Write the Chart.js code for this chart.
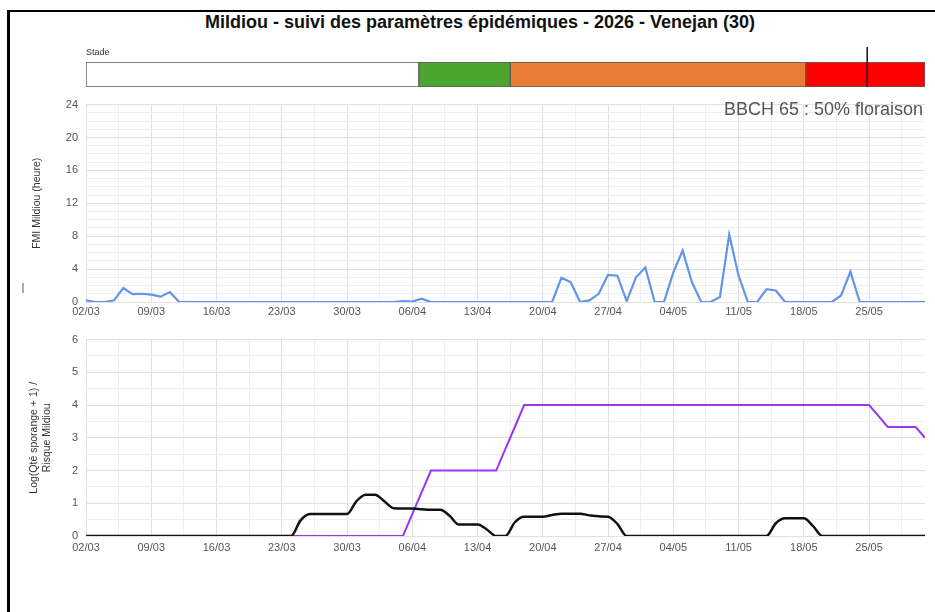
<!DOCTYPE html>
<html lang="fr">
<head>
  <meta charset="UTF-8">
  <title>Mildiou - suivi des paramètres épidémiques</title>
  <script src="https://cdn.jsdelivr.net/npm/chart.js@4.4.1/dist/chart.umd.min.js"></script>
  <style>
    body {
      margin: 0;
      background: #fff;
      font-family: 'Liberation Sans', Arial, sans-serif;
    }

    #page {
      position: relative;
      width: 935px;
      height: 612px;
      overflow: hidden;
    }

    #frame {
      position: absolute;
      left: 7px;
      top: 10px;
      right: -5px;
      bottom: -5px;
      border-left: 3px solid #000;
      border-top: 2px solid #000;
    }

    #title {
      position: absolute;
      top: 12px;
      left: 480px;
      transform: translateX(-50%);
      white-space: nowrap;
      font-weight: bold;
      font-size: 18px;
      color: #111;
    }

    .box {
      position: absolute;
      left: 0;
    }

    #stageBox { top: 40px; }
    #fmiBox { top: 90px; }
    #riskBox { top: 325px; }

    #mark {
      position: absolute;
      left: 22px;
      top: 283px;
      width: 2px;
      height: 10px;
      background: #aaa;
    }
  </style>
</head>
<body>
  <div id="page">
    <div id="frame"></div>
    <div id="title">Mildiou - suivi des paramètres épidémiques - 2026 - Venejan (30)</div>
    <div class="box" id="stageBox"><canvas id="stageChart" width="935" height="50"></canvas></div>
    <div class="box" id="fmiBox"><canvas id="fmiChart" width="935" height="235"></canvas></div>
    <div class="box" id="riskBox"><canvas id="riskChart" width="935" height="235"></canvas></div>
    <div id="mark"></div>
  </div>

  <script>
    // x = day number, 0 = 02/03 ... 90 = 31/05
    const weekLabels = ['02/03', '09/03', '16/03', '23/03', '30/03', '06/04', '13/04',
                        '20/04', '27/04', '04/05', '11/05', '18/05', '25/05'];

    // FMI Mildiou (heure), one value per day
    const fmiHours = [
      0.2, 0, 0, 0.2, 1.7, 0.95, 1.0, 0.9, 0.65, 1.2, 0,
      0, 0, 0, 0, 0, 0, 0, 0, 0, 0,
      0, 0, 0, 0, 0, 0, 0, 0, 0, 0,
      0, 0, 0, 0.1, 0.05, 0.4, 0,
      0, 0, 0, 0, 0, 0, 0, 0, 0, 0,
      0, 0, 0,
      2.95, 2.4, 0, 0.2, 1.0, 3.3, 3.2, 0.1, 3.0, 4.2,
      0, 0, 3.6, 6.25, 2.4, 0, 0, 0.6, 8.2, 3.2,
      0, 0, 1.55, 1.4, 0, 0, 0, 0, 0, 0,
      0.8, 3.7, 0, 0, 0, 0, 0, 0, 0, 0
    ];

    // Log(Qté sporange + 1)
    const sporangeLog = [
      0, 0, 0, 0, 0, 0, 0, 0, 0, 0, 0,
      0, 0, 0, 0, 0, 0, 0, 0, 0, 0,
      0, 0, 0.47, 0.67, 0.67, 0.67, 0.67, 0.67, 1.06, 1.26,
      1.26, 1.06, 0.85, 0.84, 0.84, 0.82, 0.80, 0.80, 0.62, 0.35,
      0.35, 0.35, 0.2, 0, 0, 0.42, 0.59, 0.59, 0.59, 0.64,
      0.68, 0.68, 0.68, 0.63, 0.60, 0.59, 0.37, 0, 0, 0,
      0, 0, 0, 0, 0, 0, 0, 0, 0, 0,
      0, 0, 0, 0.39, 0.54, 0.54, 0.54, 0.30, 0, 0,
      0, 0, 0, 0, 0, 0, 0, 0, 0, 0
    ];

    // Risque Mildiou
    const riskLevel = [
      0, 0, 0, 0, 0, 0, 0, 0, 0, 0, 0,
      0, 0, 0, 0, 0, 0, 0, 0, 0, 0,
      0, 0, 0, 0, 0, 0, 0, 0, 0, 0,
      0, 0, 0, 0, 0.67, 1.33, 2, 2, 2, 2,
      2, 2, 2, 2, 2.67, 3.33, 4, 4, 4, 4,
      4, 4, 4, 4, 4, 4, 4, 4, 4, 4,
      4, 4, 4, 4, 4, 4, 4, 4, 4, 4,
      4, 4, 4, 4, 4, 4, 4, 4, 4, 4,
      4, 4, 4, 4, 3.67, 3.33, 3.33, 3.33, 3.33, 3.0
    ];

    // stage bar: segment limits (in days) and the current-day marker
    const stageBounds = [0, 35.7, 45.5, 77.2, 90];
    const stageMarker = 83.8;
    const bbchText = 'BBCH 65 : 50% floraison';

    const stageColors = ['#ffffff', '#4ba52e', '#e97c37', '#ff0000'];
    const majorGrid = '#e0e0e0';
    const minorGrid = '#eeeeee';

    Chart.defaults.font.family = "'Liberation Sans', Arial, sans-serif";

    function isMultiple(v, step) {
      return Math.abs(v / step - Math.round(v / step)) < 1e-6;
    }

    function toPoints(values) {
      return values.map((v, i) => ({ x: i, y: v }));
    }

    function dayAxis(height, pad) {
      return {
        type: 'linear',
        min: 0,
        max: 90,
        border: { display: false },
        grid: {
          drawTicks: false,
          color: c => isMultiple(c.tick.value, 7) ? majorGrid : minorGrid
        },
        ticks: {
          stepSize: 3.5,
          includeBounds: false,
          autoSkip: false,
          maxRotation: 0,
          padding: pad,
          color: '#555',
          font: { size: 11 },
          callback: v => isMultiple(v, 7) ? weekLabels[Math.round(v / 7)] : ''
        },
        afterFit: s => { s.height = height; }
      };
    }

    function valueAxis(max, step, labelStep, title, titlePad) {
      return {
        min: 0,
        max: max,
        border: { display: false },
        grid: {
          drawTicks: false,
          color: c => isMultiple(c.tick.value, labelStep) ? majorGrid : minorGrid
        },
        ticks: {
          stepSize: step,
          autoSkip: false,
          padding: 8,
          color: '#555',
          font: { size: 11 },
          callback: v => isMultiple(v, labelStep) ? v : ''
        },
        title: {
          display: true,
          text: title,
          color: '#333',
          font: { size: 10.5 },
          padding: { top: titlePad, bottom: 0 }
        },
        afterFit: s => { s.width = 86; }
      };
    }

    // stage bar
    const stagePlugin = {
      id: 'stageDeco',
      afterDatasetsDraw(chart) {
        const ctx = chart.ctx;
        const x = chart.scales.x.getPixelForValue(stageMarker);
        ctx.save();
        ctx.strokeStyle = '#111';
        ctx.lineWidth = 1.5;
        ctx.beginPath();
        ctx.moveTo(x, 7);
        ctx.lineTo(x, chart.chartArea.bottom);
        ctx.stroke();
        ctx.fillStyle = '#333';
        ctx.font = "9px 'Liberation Sans', Arial";
        ctx.textBaseline = 'middle';
        ctx.fillText('Stade', chart.chartArea.left, 13);
        ctx.restore();
      }
    };

    new Chart(document.getElementById('stageChart'), {
      type: 'bar',
      data: {
        labels: ['Stade'],
        datasets: stageColors.map((c, i) => ({
          data: [[stageBounds[i], stageBounds[i + 1]]],
          backgroundColor: c,
          borderColor: '#5c5c5c',
          borderWidth: 1,
          borderSkipped: false,
          grouped: false,
          barPercentage: 1,
          categoryPercentage: 1
        }))
      },
      options: {
        indexAxis: 'y',
        responsive: false,
        animation: false,
        layout: { padding: { left: 86, right: 10, top: 22, bottom: 3 } },
        scales: {
          x: { type: 'linear', min: 0, max: 90, display: false },
          y: { display: false }
        },
        plugins: { legend: { display: false }, tooltip: { enabled: false } }
      },
      plugins: [stagePlugin]
    });

    // FMI chart
    const bbchPlugin = {
      id: 'bbch',
      afterDatasetsDraw(chart) {
        const ctx = chart.ctx;
        ctx.save();
        ctx.fillStyle = '#555';
        ctx.font = "18px 'Liberation Sans', Arial";
        ctx.textAlign = 'right';
        ctx.textBaseline = 'alphabetic';
        ctx.fillText(bbchText, chart.chartArea.right - 2, 25);
        ctx.restore();
      }
    };

    new Chart(document.getElementById('fmiChart'), {
      type: 'line',
      data: {
        datasets: [{
          label: 'FMI Mildiou',
          data: toPoints(fmiHours),
          borderColor: '#6395ec',
          borderWidth: 2.2,
          pointRadius: 0,
          tension: 0
        }]
      },
      options: {
        responsive: false,
        animation: false,
        layout: { padding: { left: 0, right: 10, top: 10, bottom: 0 } },
        scales: {
          x: dayAxis(23, 3),
          y: valueAxis(24, 1, 4, 'FMI Mildiou (heure)', 31)
        },
        plugins: { legend: { display: false }, tooltip: { enabled: false } }
      },
      plugins: [bbchPlugin]
    });

    // sporange / risk chart
    new Chart(document.getElementById('riskChart'), {
      type: 'line',
      data: {
        datasets: [{
          label: 'Log(Qté sporange + 1)',
          data: toPoints(sporangeLog),
          borderColor: '#111',
          borderWidth: 2.5,
          pointRadius: 0,
          cubicInterpolationMode: 'monotone'
        }, {
          label: 'Risque Mildiou',
          data: toPoints(riskLevel),
          borderColor: '#9d34f2',
          borderWidth: 2,
          pointRadius: 0,
          tension: 0
        }]
      },
      options: {
        responsive: false,
        animation: false,
        layout: { padding: { left: 0, right: 10, top: 8, bottom: 0 } },
        scales: {
          x: dayAxis(24, 5),
          y: valueAxis(6, 0.5, 1, ['Log(Qté sporange + 1) /', 'Risque Mildiou'], 28)
        },
        plugins: { legend: { display: false }, tooltip: { enabled: false } }
      }
    });
  </script>
</body>
</html>
